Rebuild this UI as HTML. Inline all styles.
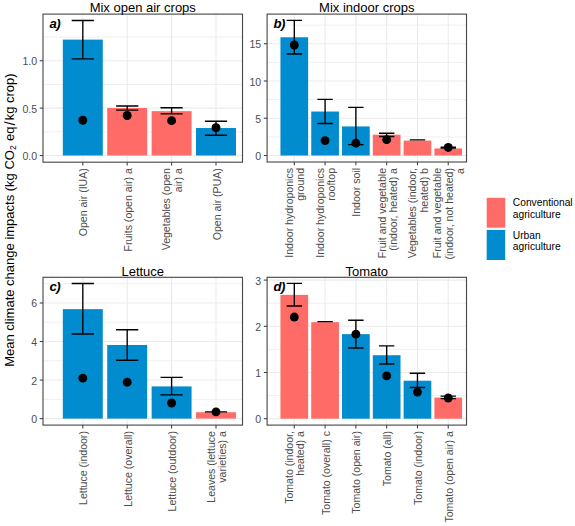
<!DOCTYPE html><html><head><meta charset="utf-8"><style>html,body{margin:0;padding:0;background:#fff;}svg{display:block;font-family:"Liberation Sans",sans-serif;}</style></head><body>
<svg width="575" height="526" viewBox="0 0 575 526">
<rect width="575" height="526" fill="#fff"/>
<rect x="43.0" y="14.1" width="199.5" height="148.1" fill="#fff"/>
<line x1="43.0" x2="242.5" y1="131.81" y2="131.81" stroke="#EBEBEB" stroke-width="0.75"/>
<line x1="43.0" x2="242.5" y1="84.44" y2="84.44" stroke="#EBEBEB" stroke-width="0.75"/>
<line x1="43.0" x2="242.5" y1="37.06" y2="37.06" stroke="#EBEBEB" stroke-width="0.75"/>
<line x1="43.0" x2="242.5" y1="155.50" y2="155.50" stroke="#EBEBEB" stroke-width="1.1"/>
<line x1="43.0" x2="242.5" y1="108.12" y2="108.12" stroke="#EBEBEB" stroke-width="1.1"/>
<line x1="43.0" x2="242.5" y1="60.75" y2="60.75" stroke="#EBEBEB" stroke-width="1.1"/>
<line x1="82.80" x2="82.80" y1="14.1" y2="162.2" stroke="#EBEBEB" stroke-width="1.1"/>
<line x1="127.20" x2="127.20" y1="14.1" y2="162.2" stroke="#EBEBEB" stroke-width="1.1"/>
<line x1="171.60" x2="171.60" y1="14.1" y2="162.2" stroke="#EBEBEB" stroke-width="1.1"/>
<line x1="216.00" x2="216.00" y1="14.1" y2="162.2" stroke="#EBEBEB" stroke-width="1.1"/>
<rect x="62.82" y="39.62" width="39.96" height="115.88" fill="#008CCF"/>
<rect x="107.22" y="108.03" width="39.96" height="47.47" fill="#FF6B66"/>
<rect x="151.62" y="111.16" width="39.96" height="44.34" fill="#FF6B66"/>
<rect x="196.02" y="128.02" width="39.96" height="27.48" fill="#008CCF"/>
<path d="M71.70 20.48H93.90M82.80 20.48V58.86M71.70 58.86H93.90" stroke="#000" stroke-width="1.35" fill="none"/>
<path d="M116.10 106.04H138.30M127.20 106.04V110.11M116.10 110.11H138.30" stroke="#000" stroke-width="1.35" fill="none"/>
<path d="M160.50 107.75H182.70M171.60 107.75V113.81M160.50 113.81H182.70" stroke="#000" stroke-width="1.35" fill="none"/>
<path d="M204.90 121.20H227.10M216.00 121.20V135.22M204.90 135.22H227.10" stroke="#000" stroke-width="1.35" fill="none"/>
<circle cx="82.80" cy="120.25" r="4.45" fill="#000"/>
<circle cx="127.20" cy="115.52" r="4.45" fill="#000"/>
<circle cx="171.60" cy="120.63" r="4.45" fill="#000"/>
<circle cx="216.00" cy="127.74" r="4.45" fill="#000"/>
<rect x="43.0" y="14.1" width="199.5" height="148.1" fill="none" stroke="#444444" stroke-width="1.1"/>
<line x1="39.70" x2="43.0" y1="155.50" y2="155.50" stroke="#444444" stroke-width="1.1"/>
<text x="37.10" y="160.00" text-anchor="end" fill="#4D4D4D" font-size="10.56">0.0</text>
<line x1="39.70" x2="43.0" y1="108.12" y2="108.12" stroke="#444444" stroke-width="1.1"/>
<text x="37.10" y="112.62" text-anchor="end" fill="#4D4D4D" font-size="10.56">0.5</text>
<line x1="39.70" x2="43.0" y1="60.75" y2="60.75" stroke="#444444" stroke-width="1.1"/>
<text x="37.10" y="65.25" text-anchor="end" fill="#4D4D4D" font-size="10.56">1.0</text>
<line x1="82.80" x2="82.80" y1="162.2" y2="165.50" stroke="#444444" stroke-width="1.1"/>
<text transform="translate(87.30,168.20) rotate(-90)" text-anchor="end" fill="#4D4D4D" font-size="10.56">Open air (IUA)</text>
<line x1="127.20" x2="127.20" y1="162.2" y2="165.50" stroke="#444444" stroke-width="1.1"/>
<text transform="translate(131.70,168.20) rotate(-90)" text-anchor="end" fill="#4D4D4D" font-size="10.56">Fruits (open air) a</text>
<line x1="171.60" x2="171.60" y1="162.2" y2="165.50" stroke="#444444" stroke-width="1.1"/>
<text transform="translate(170.45,168.20) rotate(-90)" text-anchor="end" fill="#4D4D4D" font-size="10.56">Vegetables (open</text>
<text transform="translate(181.75,168.20) rotate(-90)" text-anchor="end" fill="#4D4D4D" font-size="10.56">air) a</text>
<line x1="216.00" x2="216.00" y1="162.2" y2="165.50" stroke="#444444" stroke-width="1.1"/>
<text transform="translate(220.50,168.20) rotate(-90)" text-anchor="end" fill="#4D4D4D" font-size="10.56">Open air (PUA)</text>
<text x="142.75" y="12.4" text-anchor="middle" fill="#000" font-size="13.0">Mix open air crops</text>
<text x="49.5" y="28.3" font-size="13.2" letter-spacing="-0.6" font-weight="bold" font-style="italic" fill="#000">a)</text>
<rect x="267.1" y="14.1" width="199.39999999999998" height="147.9" fill="#fff"/>
<line x1="267.1" x2="466.5" y1="136.88" y2="136.88" stroke="#EBEBEB" stroke-width="0.75"/>
<line x1="267.1" x2="466.5" y1="99.62" y2="99.62" stroke="#EBEBEB" stroke-width="0.75"/>
<line x1="267.1" x2="466.5" y1="62.38" y2="62.38" stroke="#EBEBEB" stroke-width="0.75"/>
<line x1="267.1" x2="466.5" y1="25.12" y2="25.12" stroke="#EBEBEB" stroke-width="0.75"/>
<line x1="267.1" x2="466.5" y1="155.50" y2="155.50" stroke="#EBEBEB" stroke-width="1.1"/>
<line x1="267.1" x2="466.5" y1="118.25" y2="118.25" stroke="#EBEBEB" stroke-width="1.1"/>
<line x1="267.1" x2="466.5" y1="81.00" y2="81.00" stroke="#EBEBEB" stroke-width="1.1"/>
<line x1="267.1" x2="466.5" y1="43.75" y2="43.75" stroke="#EBEBEB" stroke-width="1.1"/>
<line x1="294.30" x2="294.30" y1="14.1" y2="162.0" stroke="#EBEBEB" stroke-width="1.1"/>
<line x1="325.09" x2="325.09" y1="14.1" y2="162.0" stroke="#EBEBEB" stroke-width="1.1"/>
<line x1="355.88" x2="355.88" y1="14.1" y2="162.0" stroke="#EBEBEB" stroke-width="1.1"/>
<line x1="386.67" x2="386.67" y1="14.1" y2="162.0" stroke="#EBEBEB" stroke-width="1.1"/>
<line x1="417.46" x2="417.46" y1="14.1" y2="162.0" stroke="#EBEBEB" stroke-width="1.1"/>
<line x1="448.25" x2="448.25" y1="14.1" y2="162.0" stroke="#EBEBEB" stroke-width="1.1"/>
<rect x="280.44" y="37.27" width="27.71" height="118.23" fill="#008CCF"/>
<rect x="311.23" y="111.54" width="27.71" height="43.96" fill="#008CCF"/>
<rect x="342.02" y="126.44" width="27.71" height="29.05" fill="#008CCF"/>
<rect x="372.81" y="134.71" width="27.71" height="20.79" fill="#FF6B66"/>
<rect x="403.60" y="140.60" width="27.71" height="14.90" fill="#FF6B66"/>
<rect x="434.39" y="148.42" width="27.71" height="7.08" fill="#FF6B66"/>
<path d="M286.60 20.43H302.00M294.30 20.43V54.03M286.60 54.03H302.00" stroke="#000" stroke-width="1.35" fill="none"/>
<path d="M317.39 99.33H332.79M325.09 99.33V123.47M317.39 123.47H332.79" stroke="#000" stroke-width="1.35" fill="none"/>
<path d="M348.18 107.37H363.58M355.88 107.37V144.62M348.18 144.62H363.58" stroke="#000" stroke-width="1.35" fill="none"/>
<path d="M378.97 133.22H394.37M386.67 133.22V136.50M378.97 136.50H394.37" stroke="#000" stroke-width="1.35" fill="none"/>
<path d="M409.76 139.85H425.16M417.46 139.85V139.85M409.76 139.85H425.16" stroke="#000" stroke-width="1.35" fill="none"/>
<path d="M440.55 147.16H455.95M448.25 147.16V148.05M440.55 148.05H455.95" stroke="#000" stroke-width="1.35" fill="none"/>
<circle cx="294.30" cy="45.02" r="4.45" fill="#000"/>
<circle cx="325.09" cy="140.60" r="4.45" fill="#000"/>
<circle cx="355.88" cy="143.21" r="4.45" fill="#000"/>
<circle cx="386.67" cy="139.63" r="4.45" fill="#000"/>
<circle cx="448.25" cy="147.45" r="4.45" fill="#000"/>
<rect x="267.1" y="14.1" width="199.39999999999998" height="147.9" fill="none" stroke="#444444" stroke-width="1.1"/>
<line x1="263.80" x2="267.1" y1="155.50" y2="155.50" stroke="#444444" stroke-width="1.1"/>
<text x="261.20" y="160.00" text-anchor="end" fill="#4D4D4D" font-size="10.56">0</text>
<line x1="263.80" x2="267.1" y1="118.25" y2="118.25" stroke="#444444" stroke-width="1.1"/>
<text x="261.20" y="122.75" text-anchor="end" fill="#4D4D4D" font-size="10.56">5</text>
<line x1="263.80" x2="267.1" y1="81.00" y2="81.00" stroke="#444444" stroke-width="1.1"/>
<text x="261.20" y="85.50" text-anchor="end" fill="#4D4D4D" font-size="10.56">10</text>
<line x1="263.80" x2="267.1" y1="43.75" y2="43.75" stroke="#444444" stroke-width="1.1"/>
<text x="261.20" y="48.25" text-anchor="end" fill="#4D4D4D" font-size="10.56">15</text>
<line x1="294.30" x2="294.30" y1="162.0" y2="165.30" stroke="#444444" stroke-width="1.1"/>
<text transform="translate(293.15,168.00) rotate(-90)" text-anchor="end" fill="#4D4D4D" font-size="10.56">Indoor hydroponics</text>
<text transform="translate(304.45,168.00) rotate(-90)" text-anchor="end" fill="#4D4D4D" font-size="10.56">ground</text>
<line x1="325.09" x2="325.09" y1="162.0" y2="165.30" stroke="#444444" stroke-width="1.1"/>
<text transform="translate(323.94,168.00) rotate(-90)" text-anchor="end" fill="#4D4D4D" font-size="10.56">Indoor hydroponics</text>
<text transform="translate(335.24,168.00) rotate(-90)" text-anchor="end" fill="#4D4D4D" font-size="10.56">rooftop</text>
<line x1="355.88" x2="355.88" y1="162.0" y2="165.30" stroke="#444444" stroke-width="1.1"/>
<text transform="translate(360.38,168.00) rotate(-90)" text-anchor="end" fill="#4D4D4D" font-size="10.56">Indoor soil</text>
<line x1="386.67" x2="386.67" y1="162.0" y2="165.30" stroke="#444444" stroke-width="1.1"/>
<text transform="translate(385.52,168.00) rotate(-90)" text-anchor="end" fill="#4D4D4D" font-size="10.56">Fruit and vegetable</text>
<text transform="translate(396.82,168.00) rotate(-90)" text-anchor="end" fill="#4D4D4D" font-size="10.56">(indoor, heated) a</text>
<line x1="417.46" x2="417.46" y1="162.0" y2="165.30" stroke="#444444" stroke-width="1.1"/>
<text transform="translate(416.31,168.00) rotate(-90)" text-anchor="end" fill="#4D4D4D" font-size="10.56">Vegetables (indoor,</text>
<text transform="translate(427.61,168.00) rotate(-90)" text-anchor="end" fill="#4D4D4D" font-size="10.56">heated) b</text>
<line x1="448.25" x2="448.25" y1="162.0" y2="165.30" stroke="#444444" stroke-width="1.1"/>
<text transform="translate(441.45,168.00) rotate(-90)" text-anchor="end" fill="#4D4D4D" font-size="10.56">Fruit and vegetable</text>
<text transform="translate(452.75,168.00) rotate(-90)" text-anchor="end" fill="#4D4D4D" font-size="10.56">(indoor, not heated)</text>
<text transform="translate(464.05,168.00) rotate(-90)" text-anchor="end" fill="#4D4D4D" font-size="10.56">a</text>
<text x="366.80" y="12.4" text-anchor="middle" fill="#000" font-size="13.0">Mix indoor crops</text>
<text x="273.5" y="28.2" font-size="13.2" letter-spacing="-0.6" font-weight="bold" font-style="italic" fill="#000">b)</text>
<rect x="43.0" y="277.3" width="199.5" height="147.8" fill="#fff"/>
<line x1="43.0" x2="242.5" y1="399.33" y2="399.33" stroke="#EBEBEB" stroke-width="0.75"/>
<line x1="43.0" x2="242.5" y1="360.79" y2="360.79" stroke="#EBEBEB" stroke-width="0.75"/>
<line x1="43.0" x2="242.5" y1="322.25" y2="322.25" stroke="#EBEBEB" stroke-width="0.75"/>
<line x1="43.0" x2="242.5" y1="283.71" y2="283.71" stroke="#EBEBEB" stroke-width="0.75"/>
<line x1="43.0" x2="242.5" y1="418.60" y2="418.60" stroke="#EBEBEB" stroke-width="1.1"/>
<line x1="43.0" x2="242.5" y1="380.06" y2="380.06" stroke="#EBEBEB" stroke-width="1.1"/>
<line x1="43.0" x2="242.5" y1="341.52" y2="341.52" stroke="#EBEBEB" stroke-width="1.1"/>
<line x1="43.0" x2="242.5" y1="302.98" y2="302.98" stroke="#EBEBEB" stroke-width="1.1"/>
<line x1="82.80" x2="82.80" y1="277.3" y2="425.1" stroke="#EBEBEB" stroke-width="1.1"/>
<line x1="127.20" x2="127.20" y1="277.3" y2="425.1" stroke="#EBEBEB" stroke-width="1.1"/>
<line x1="171.60" x2="171.60" y1="277.3" y2="425.1" stroke="#EBEBEB" stroke-width="1.1"/>
<line x1="216.00" x2="216.00" y1="277.3" y2="425.1" stroke="#EBEBEB" stroke-width="1.1"/>
<rect x="62.82" y="309.15" width="39.96" height="109.45" fill="#008CCF"/>
<rect x="107.22" y="344.99" width="39.96" height="73.61" fill="#008CCF"/>
<rect x="151.62" y="386.42" width="39.96" height="32.18" fill="#008CCF"/>
<rect x="196.02" y="412.24" width="39.96" height="6.36" fill="#FF6B66"/>
<path d="M71.70 283.52H93.90M82.80 283.52V334.00M71.70 334.00H93.90" stroke="#000" stroke-width="1.35" fill="none"/>
<path d="M116.10 329.77H138.30M127.20 329.77V360.21M116.10 360.21H138.30" stroke="#000" stroke-width="1.35" fill="none"/>
<path d="M160.50 377.36H182.70M171.60 377.36V394.90M160.50 394.90H182.70" stroke="#000" stroke-width="1.35" fill="none"/>
<path d="M204.90 411.86H227.10M216.00 411.86V411.86M204.90 411.86H227.10" stroke="#000" stroke-width="1.35" fill="none"/>
<circle cx="82.80" cy="378.13" r="4.45" fill="#000"/>
<circle cx="127.20" cy="382.18" r="4.45" fill="#000"/>
<circle cx="171.60" cy="402.99" r="4.45" fill="#000"/>
<circle cx="216.00" cy="411.86" r="4.45" fill="#000"/>
<rect x="43.0" y="277.3" width="199.5" height="147.8" fill="none" stroke="#444444" stroke-width="1.1"/>
<line x1="39.70" x2="43.0" y1="418.60" y2="418.60" stroke="#444444" stroke-width="1.1"/>
<text x="37.10" y="423.10" text-anchor="end" fill="#4D4D4D" font-size="10.56">0</text>
<line x1="39.70" x2="43.0" y1="380.06" y2="380.06" stroke="#444444" stroke-width="1.1"/>
<text x="37.10" y="384.56" text-anchor="end" fill="#4D4D4D" font-size="10.56">2</text>
<line x1="39.70" x2="43.0" y1="341.52" y2="341.52" stroke="#444444" stroke-width="1.1"/>
<text x="37.10" y="346.02" text-anchor="end" fill="#4D4D4D" font-size="10.56">4</text>
<line x1="39.70" x2="43.0" y1="302.98" y2="302.98" stroke="#444444" stroke-width="1.1"/>
<text x="37.10" y="307.48" text-anchor="end" fill="#4D4D4D" font-size="10.56">6</text>
<line x1="82.80" x2="82.80" y1="425.1" y2="428.40" stroke="#444444" stroke-width="1.1"/>
<text transform="translate(87.30,431.10) rotate(-90)" text-anchor="end" fill="#4D4D4D" font-size="10.56">Lettuce (indoor)</text>
<line x1="127.20" x2="127.20" y1="425.1" y2="428.40" stroke="#444444" stroke-width="1.1"/>
<text transform="translate(131.70,431.10) rotate(-90)" text-anchor="end" fill="#4D4D4D" font-size="10.56">Lettuce (overall)</text>
<line x1="171.60" x2="171.60" y1="425.1" y2="428.40" stroke="#444444" stroke-width="1.1"/>
<text transform="translate(176.10,431.10) rotate(-90)" text-anchor="end" fill="#4D4D4D" font-size="10.56">Lettuce (outdoor)</text>
<line x1="216.00" x2="216.00" y1="425.1" y2="428.40" stroke="#444444" stroke-width="1.1"/>
<text transform="translate(214.85,431.10) rotate(-90)" text-anchor="end" fill="#4D4D4D" font-size="10.56">Leaves (lettuce</text>
<text transform="translate(226.15,431.10) rotate(-90)" text-anchor="end" fill="#4D4D4D" font-size="10.56">varieties) a</text>
<text x="142.75" y="275.6" text-anchor="middle" fill="#000" font-size="13.0">Lettuce</text>
<text x="49.5" y="290.8" font-size="13.2" letter-spacing="-0.6" font-weight="bold" font-style="italic" fill="#000">c)</text>
<rect x="267.1" y="277.3" width="199.39999999999998" height="147.8" fill="#fff"/>
<line x1="267.1" x2="466.5" y1="395.60" y2="395.60" stroke="#EBEBEB" stroke-width="0.75"/>
<line x1="267.1" x2="466.5" y1="349.40" y2="349.40" stroke="#EBEBEB" stroke-width="0.75"/>
<line x1="267.1" x2="466.5" y1="303.20" y2="303.20" stroke="#EBEBEB" stroke-width="0.75"/>
<line x1="267.1" x2="466.5" y1="418.70" y2="418.70" stroke="#EBEBEB" stroke-width="1.1"/>
<line x1="267.1" x2="466.5" y1="372.50" y2="372.50" stroke="#EBEBEB" stroke-width="1.1"/>
<line x1="267.1" x2="466.5" y1="326.30" y2="326.30" stroke="#EBEBEB" stroke-width="1.1"/>
<line x1="267.1" x2="466.5" y1="280.10" y2="280.10" stroke="#EBEBEB" stroke-width="1.1"/>
<line x1="294.30" x2="294.30" y1="277.3" y2="425.1" stroke="#EBEBEB" stroke-width="1.1"/>
<line x1="325.09" x2="325.09" y1="277.3" y2="425.1" stroke="#EBEBEB" stroke-width="1.1"/>
<line x1="355.88" x2="355.88" y1="277.3" y2="425.1" stroke="#EBEBEB" stroke-width="1.1"/>
<line x1="386.67" x2="386.67" y1="277.3" y2="425.1" stroke="#EBEBEB" stroke-width="1.1"/>
<line x1="417.46" x2="417.46" y1="277.3" y2="425.1" stroke="#EBEBEB" stroke-width="1.1"/>
<line x1="448.25" x2="448.25" y1="277.3" y2="425.1" stroke="#EBEBEB" stroke-width="1.1"/>
<rect x="280.44" y="294.88" width="27.71" height="123.82" fill="#FF6B66"/>
<rect x="311.23" y="322.14" width="27.71" height="96.56" fill="#FF6B66"/>
<rect x="342.02" y="334.15" width="27.71" height="84.55" fill="#008CCF"/>
<rect x="372.81" y="355.22" width="27.71" height="63.48" fill="#008CCF"/>
<rect x="403.60" y="380.72" width="27.71" height="37.98" fill="#008CCF"/>
<rect x="434.39" y="397.59" width="27.71" height="21.11" fill="#FF6B66"/>
<path d="M286.60 283.33H302.00M294.30 283.33V305.97M286.60 305.97H302.00" stroke="#000" stroke-width="1.35" fill="none"/>
<path d="M317.39 321.68H332.79M325.09 321.68V321.68M317.39 321.68H332.79" stroke="#000" stroke-width="1.35" fill="none"/>
<path d="M348.18 320.29H363.58M355.88 320.29V348.01M348.18 348.01H363.58" stroke="#000" stroke-width="1.35" fill="none"/>
<path d="M378.97 345.89H394.37M386.67 345.89V364.00M378.97 364.00H394.37" stroke="#000" stroke-width="1.35" fill="none"/>
<path d="M409.76 373.29H425.16M417.46 373.29V387.51M409.76 387.51H425.16" stroke="#000" stroke-width="1.35" fill="none"/>
<path d="M440.55 396.06H455.95M448.25 396.06V398.60M440.55 398.60H455.95" stroke="#000" stroke-width="1.35" fill="none"/>
<circle cx="294.30" cy="317.06" r="4.45" fill="#000"/>
<circle cx="355.88" cy="334.15" r="4.45" fill="#000"/>
<circle cx="386.67" cy="375.92" r="4.45" fill="#000"/>
<circle cx="417.46" cy="392.09" r="4.45" fill="#000"/>
<circle cx="448.25" cy="398.00" r="4.45" fill="#000"/>
<rect x="267.1" y="277.3" width="199.39999999999998" height="147.8" fill="none" stroke="#444444" stroke-width="1.1"/>
<line x1="263.80" x2="267.1" y1="418.70" y2="418.70" stroke="#444444" stroke-width="1.1"/>
<text x="261.20" y="423.20" text-anchor="end" fill="#4D4D4D" font-size="10.56">0</text>
<line x1="263.80" x2="267.1" y1="372.50" y2="372.50" stroke="#444444" stroke-width="1.1"/>
<text x="261.20" y="377.00" text-anchor="end" fill="#4D4D4D" font-size="10.56">1</text>
<line x1="263.80" x2="267.1" y1="326.30" y2="326.30" stroke="#444444" stroke-width="1.1"/>
<text x="261.20" y="330.80" text-anchor="end" fill="#4D4D4D" font-size="10.56">2</text>
<line x1="263.80" x2="267.1" y1="280.10" y2="280.10" stroke="#444444" stroke-width="1.1"/>
<text x="261.20" y="284.60" text-anchor="end" fill="#4D4D4D" font-size="10.56">3</text>
<line x1="294.30" x2="294.30" y1="425.1" y2="428.40" stroke="#444444" stroke-width="1.1"/>
<text transform="translate(293.15,431.10) rotate(-90)" text-anchor="end" fill="#4D4D4D" font-size="10.56">Tomato (indoor,</text>
<text transform="translate(304.45,431.10) rotate(-90)" text-anchor="end" fill="#4D4D4D" font-size="10.56">heated) a</text>
<line x1="325.09" x2="325.09" y1="425.1" y2="428.40" stroke="#444444" stroke-width="1.1"/>
<text transform="translate(329.59,431.10) rotate(-90)" text-anchor="end" fill="#4D4D4D" font-size="10.56">Tomato (overall) c</text>
<line x1="355.88" x2="355.88" y1="425.1" y2="428.40" stroke="#444444" stroke-width="1.1"/>
<text transform="translate(360.38,431.10) rotate(-90)" text-anchor="end" fill="#4D4D4D" font-size="10.56">Tomato (open air)</text>
<line x1="386.67" x2="386.67" y1="425.1" y2="428.40" stroke="#444444" stroke-width="1.1"/>
<text transform="translate(391.17,431.10) rotate(-90)" text-anchor="end" fill="#4D4D4D" font-size="10.56">Tomato (all)</text>
<line x1="417.46" x2="417.46" y1="425.1" y2="428.40" stroke="#444444" stroke-width="1.1"/>
<text transform="translate(421.96,431.10) rotate(-90)" text-anchor="end" fill="#4D4D4D" font-size="10.56">Tomato (indoor)</text>
<line x1="448.25" x2="448.25" y1="425.1" y2="428.40" stroke="#444444" stroke-width="1.1"/>
<text transform="translate(452.75,431.10) rotate(-90)" text-anchor="end" fill="#4D4D4D" font-size="10.56">Tomato (open air) a</text>
<text x="366.80" y="275.6" text-anchor="middle" fill="#000" font-size="13.0">Tomato</text>
<text x="273.5" y="290.8" font-size="13.2" letter-spacing="-0.6" font-weight="bold" font-style="italic" fill="#000">d)</text>
<text transform="translate(14.1,366.8) rotate(-90)" text-anchor="start" font-size="13" fill="#000">Mean climate change impacts (kg CO<tspan font-size="8.6" dy="1.7">2</tspan><tspan dy="-1.7" dx="0.6"> eq</tspan><tspan font-size="14.5" dx="1.2" dy="1.0">/</tspan><tspan dy="-1.0" dx="1.0">kg crop)</tspan></text>
<rect x="486.7" y="197.8" width="18.5" height="29.9" fill="#FF6B66"/>
<rect x="486.7" y="229.9" width="18.5" height="30.1" fill="#008CCF"/>
<text x="512.8" y="206.4" font-size="10.25" fill="#000">Conventional</text>
<text x="512.8" y="217.7" font-size="10.25" fill="#000">agriculture</text>
<text x="512.8" y="238.7" font-size="10.25" fill="#000">Urban</text>
<text x="512.8" y="249.9" font-size="10.25" fill="#000">agriculture</text>
</svg></body></html>
